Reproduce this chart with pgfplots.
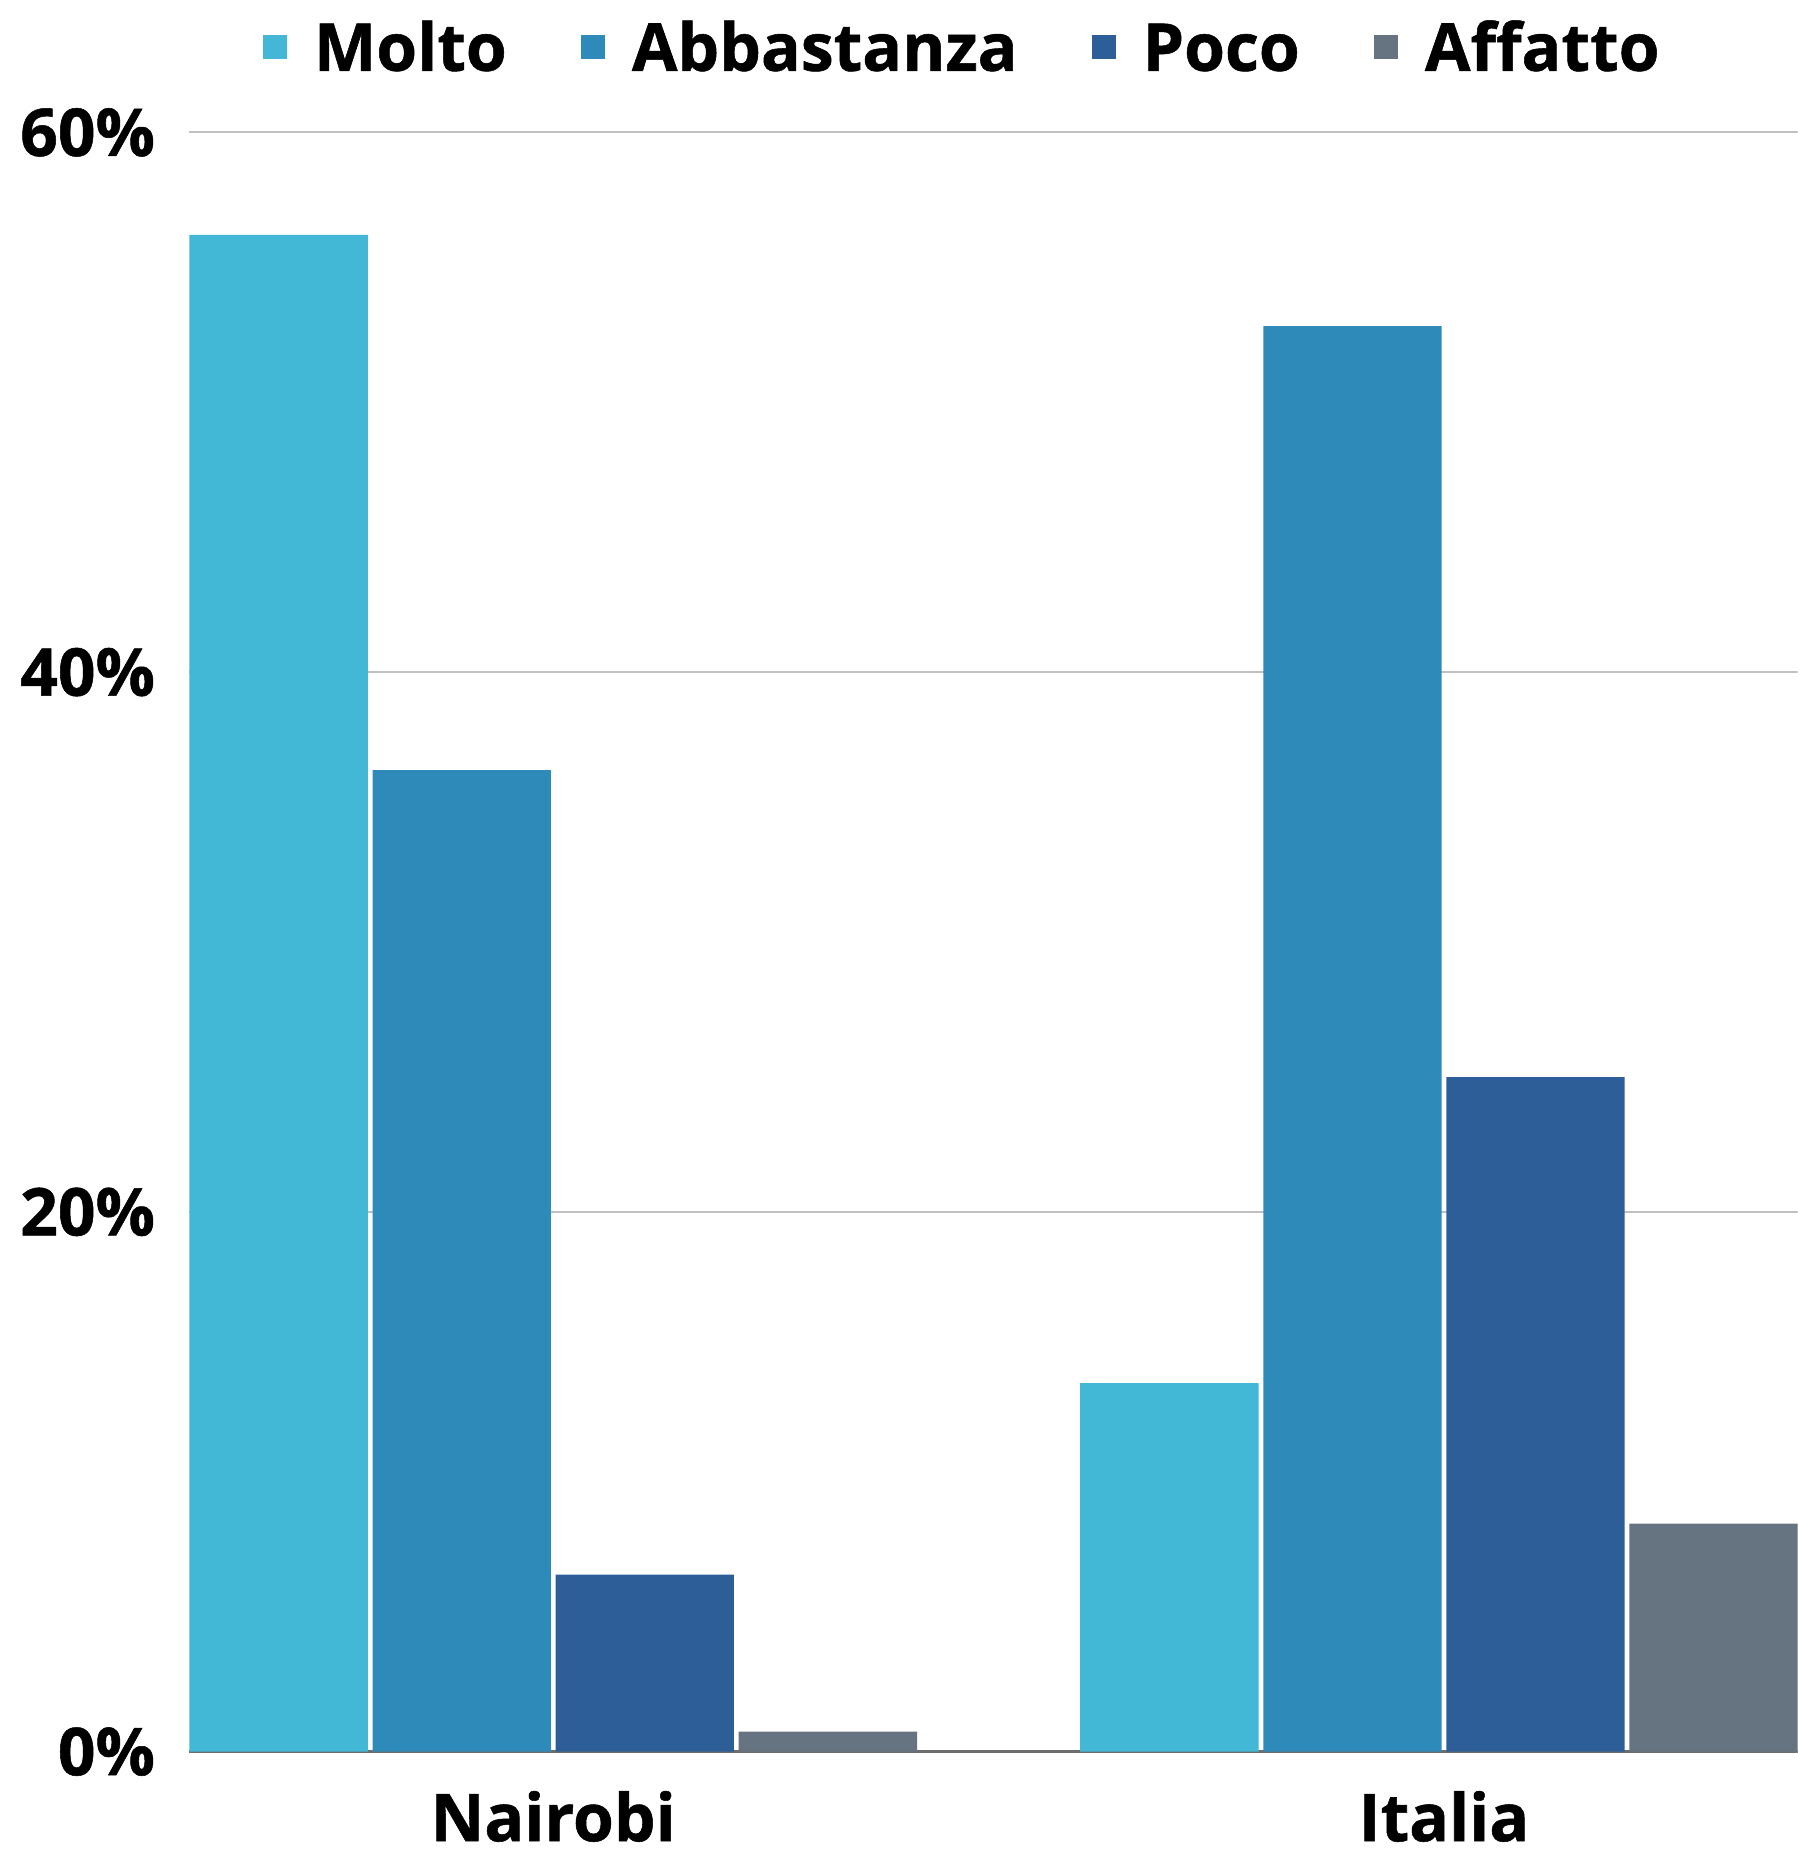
\documentclass[border=0pt]{standalone}
\usepackage{fontspec}
\setmainfont{Open Sans}[BoldFeatures={FakeBold=0.8}]
\usepackage{pgfplots}
\pgfplotsset{compat=1.18}
\definecolor{cMolto}{RGB}{66,183,214}
\definecolor{cAbba}{RGB}{46,139,185}
\definecolor{cPoco}{RGB}{46,94,152}
\definecolor{cAff}{RGB}{102,115,128}
\definecolor{gridc}{RGB}{192,192,192}
\definecolor{basec}{RGB}{110,110,110}
\newcommand{\cf}{\bfseries\fontsize{16.5}{16.5}\selectfont}
\begin{document}
\begin{tikzpicture}
\useasboundingbox (0,0) rectangle (449.5pt,463.1pt);
\clip (0,0) rectangle (449.5pt,463.1pt);
\begin{axis}[
  at={(47.25pt,25.10pt)}, anchor=south west,
  scale only axis, width=402.25pt, height=404.9pt,
  ybar=1.18pt, bar width=44.6pt,
  xmin=-0.409, xmax=1.397, ymin=0, ymax=60,
  xtick={0,1}, xticklabels={Nairobi,Italia},
  ytick={0,20,40,60}, yticklabels={0\%,20\%,40\%,60\%},
  major tick length=0pt,
  axis x line*=bottom, axis y line*=left,
  x axis line style={-, draw=basec, line width=0.7pt},
  y axis line style={draw=none},
  ymajorgrids, grid style={draw=gridc, line width=0.5pt},
  xticklabel style={font=\cf, anchor=base, inner sep=0pt, yshift=-22.4pt},
  yticklabel style={font=\cf, anchor=base east, inner sep=0pt, xshift=-8.3pt, yshift=-5.9pt},
  legend columns=4,
  legend style={at={(0.4802,1.0526)}, anchor=center, draw=none, fill=none,
    inner sep=0pt, column sep=0pt,
    nodes={font=\cf, inner sep=0pt, text height=11.8pt, text depth=0pt},
    /tikz/every even column/.append style={column sep=18.6pt}},
  legend image code/.code={\fill[#1,draw=none] (0pt,-2.95pt) rectangle (5.9pt,2.95pt); \path (12.7pt,0pt);},
]
\addplot[fill=cMolto, draw=none] coordinates {(0,56.2) (1,13.65)};
\addplot[fill=cAbba, draw=none] coordinates {(0,36.37) (1,52.82)};
\addplot[fill=cPoco, draw=none] coordinates {(0,6.56) (1,24.99)};
\addplot[fill=cAff, draw=none] coordinates {(0,0.74) (1,8.45)};
\legend{Molto,Abbastanza,Poco,Affatto}
\end{axis}
\end{tikzpicture}
\end{document}
